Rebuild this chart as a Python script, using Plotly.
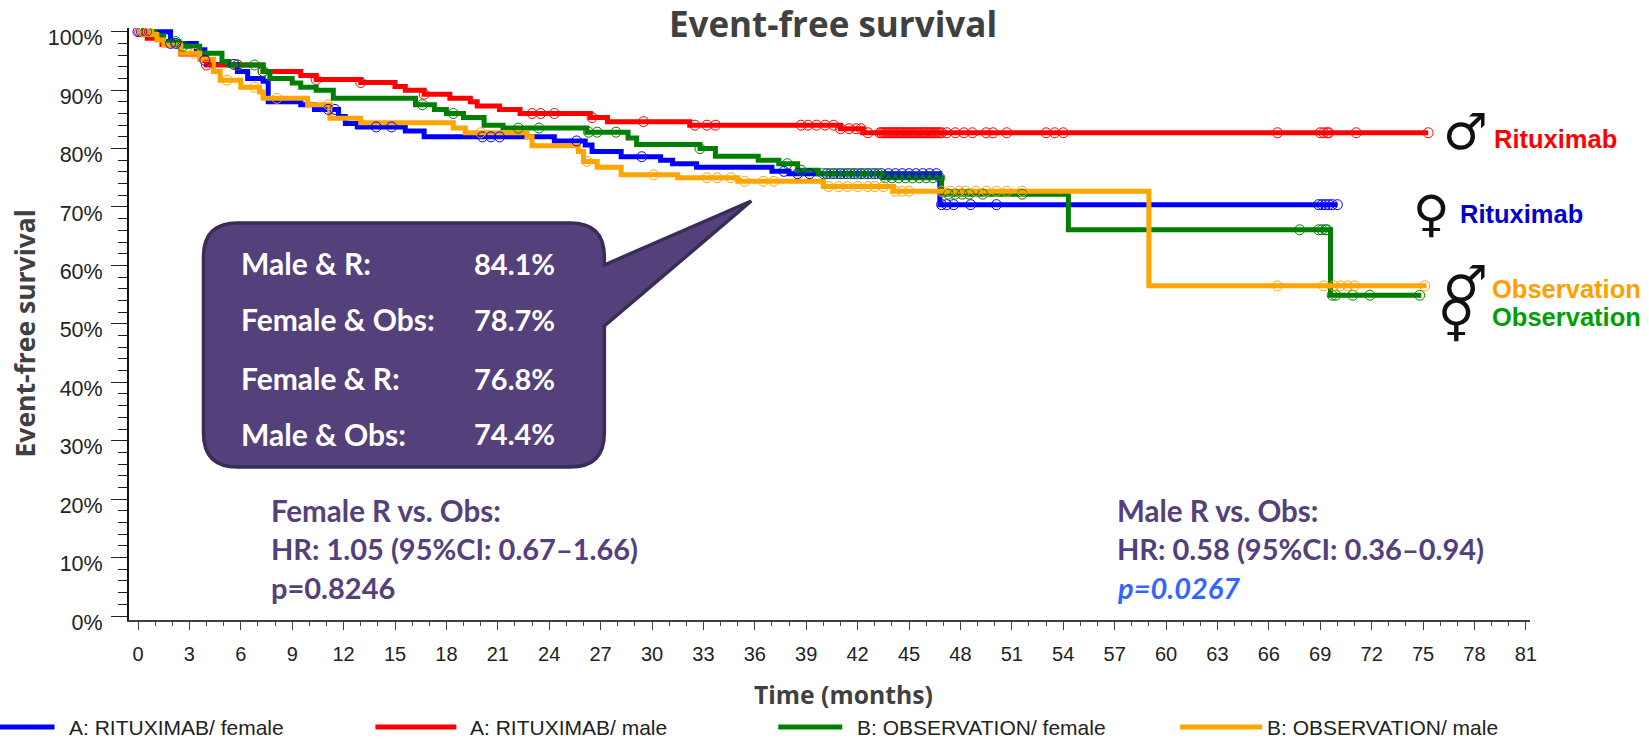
import numpy as np
import plotly.graph_objects as go

W, H = 1649, 741
L, R, T, B = 128.5, 1530, 28, 620
X0, XS = 137.5, 17.14
Y0, YS = 616, 5.843

blue_t = [0,1.9,3.4,3.9,4.0,5.8,6.4,7.3,7.6,9.5,10.3,11.7,12.1,12.8,15.6,16.7,24.3,26.1,26.5,28.2,30.5,31.2,32.6,37.0,38.0,46.8,70.0]
blue_s = [100,98,96.9,95.1,94.4,93.2,92,91.5,88,87.5,86.7,85.5,84.3,83.7,83,82,81.3,80.6,79.5,78.6,78,77.4,76.8,76.1,75.7,70.4,70.4]
red_t = [0,0.54,1.4,2.5,4.0,7.3,9.5,10.4,13.0,15.0,15.6,16.7,18.2,19.4,19.8,21.1,22.3,26.4,27.4,32.2,41.0,42.3,75.3]
red_s = [100,98.9,97.8,96.2,94.3,93.2,92.5,91.8,91.3,90.6,90,89.3,88.6,88,87.3,86.7,86,85.3,84.6,84,83.4,82.7,82.7]
green_t = [0,1.0,1.5,2.4,3.6,4.9,5.3,7.3,7.7,9.0,9.5,10.4,11.4,16.2,17.3,18.0,19.0,20.2,21.3,26.2,28.6,29.1,32.8,33.7,36.2,37.4,38.5,39.7,43.5,46.9,54.3,69.6,74.9]
green_s = [100,99.3,98.3,97.5,96.3,94.9,94.3,93.2,92,91.2,90.5,90,88.6,87.5,86.7,86,85.3,84,83.5,82.8,81.8,80.7,80,78.7,78,77.4,76.3,75.7,75,72.2,66.1,54.9,54.9]
orange_t = [0,0.8,1.1,1.5,2.5,3.6,4.4,4.8,6.0,7.1,7.3,9.9,11.2,13.0,18.4,19.1,22.7,23.0,25.7,26.0,26.8,28.2,31.5,35.0,40.0,44.1,59.0,75.2]
orange_s = [100,99.5,98.6,97.7,96.3,95.3,93.2,91.7,90.5,89.7,88.6,87.5,85.2,84.4,83.5,82.7,82,80.5,79.5,77.8,76.8,75.5,75,74.4,73.5,72.7,56.5,56.5]

blue_cens = [0,0.2,1.9,2.2,3.9,5.6,11.1,11.5,13.9,14.8,20.1,20.6,21.1,25.6,29.4,37.7,38.5,39.2,40.2,40.6,41,41.4,41.8,42.2,42.6,43,43.4,43.8,44.2,44.6,45,45.4,45.8,46.2,46.6,46.9,47.2,47.6,48.6,50.1,68.9,69.1,69.3,69.5,69.7,70.0]
red_cens = [0.1,0.3,4.0,5.8,7.3,10.4,13,16.7,23,23.5,24.3,26.5,29.5,32.5,33.2,33.7,38.7,39.1,39.6,40.1,40.6,41,41.5,41.9,42.2,42.6,43.3,43.4,43.5,43.6,43.7,43.8,43.9,44.0,44.1,44.2,44.3,44.4,44.5,44.6,44.7,44.8,44.9,45.0,45.1,45.2,45.3,45.4,45.5,45.6,45.7,45.8,45.9,46.0,46.1,46.2,46.3,46.4,46.5,46.6,46.7,46.8,46.9,47.2,47.7,48.2,48.7,49.5,49.9,50.7,53,53.5,54,66.5,69,69.2,69.4,69.5,71.1,75.3]
green_cens = [0.5,2.2,2.6,5.8,6.8,7.3,16.6,18.4,22.2,23.4,26.3,26.8,27.9,32.8,37.9,38.7,40,40.4,40.8,41.2,41.6,42,42.4,42.8,43.2,43.6,44,44.4,44.8,45.2,45.6,46,46.4,46.8,47.3,47.7,48.1,48.5,49.3,51.6,67.8,68.9,69.1,69.3,69.4,69.7,69.9,70.9,71.9,74.8]
orange_cens = [0.3,0.6,3.3,5.2,6.8,8.1,11.1,20,26.2,30.1,33.2,33.8,34.6,35.4,36.5,37.1,40.3,40.9,41.4,42,42.6,43,43.5,44.2,44.6,45,46.9,47.4,47.9,48.3,48.9,49.5,50.1,50.7,51.6,66.5,69.2,69.8,70.2,70.6,71,75.1]

series_names = ["A: RITUXIMAB/ female", "A: RITUXIMAB/ male", "B: OBSERVATION/ female", "B: OBSERVATION/ male"]
series_colors = ["#0000ff", "#ff0000", "#008000", "#ffa500"]
x_ticks = list(range(0, 82, 3))
y_ticks = list(range(0, 101, 10))
callout_labels = ["Male & R:", "Female & Obs:", "Female & R:", "Male & Obs:"]
callout_values = ["84.1%", "78.7%", "76.8%", "74.4%"]
PURPLE = "#54407a"
GREY = "#404040"

def px(x): return (x - L) / (R - L)
def py(y): return (B - y) / (B - T)
def step_at(ts, ss, c):
    i = np.searchsorted(ts, c, side="right") - 1
    return [ss[k] for k in i]

fig = go.Figure()
allser = [(blue_t, blue_s, blue_cens), (red_t, red_s, red_cens), (green_t, green_s, green_cens), (orange_t, orange_s, orange_cens)]
for (t, s, c), nm, col in zip(allser, series_names, series_colors):
    fig.add_trace(go.Scatter(x=t, y=s, mode="lines", name=nm, showlegend=False,
                             line=dict(color=col, width=5, shape="hv")))
for (t, s, c), nm, col in zip(allser, series_names, series_colors):
    fig.add_trace(go.Scatter(x=c, y=step_at(t, s, c), mode="markers", name=nm + " censored", showlegend=False,
                             marker=dict(symbol="circle-open", size=10, color=col, line=dict(width=1, color=col))))

shapes = []
xl, xr, yt, yb, r = 203, 604, 223, 467, 34
pts = [("M", xl + r, yt), ("L", xr - r, yt), ("Q", xr, yt, xr, yt + r), ("L", xr, 265), ("L", 751, 201),
       ("L", xr, 326), ("L", xr, yb - r), ("Q", xr, yb, xr - r, yb), ("L", xl + r, yb),
       ("Q", xl, yb, xl, yb - r), ("L", xl, yt + r), ("Q", xl, yt, xl + r, yt)]
path = ""
for p in pts:
    c = p[1:]
    path += p[0] + " " + " ".join(f"{(px(c[i]) if i % 2 == 0 else py(c[i])):.5f}" for i in range(len(c))) + " "
shapes.append(dict(type="path", xref="paper", yref="paper", path=path + "Z", fillcolor=PURPLE,
                   line=dict(color="#3a2c58", width=3.5), layer="above"))
leg_lines = [(-27, 54), (375, 456), (778, 842), (1180, 1262)]
for (a, b), col in zip(leg_lines, series_colors):
    shapes.append(dict(type="line", xref="paper", yref="paper", x0=px(a), x1=px(b), y0=py(727), y1=py(727),
                       line=dict(color=col, width=5)))

ann = []
def text(s, x, y, size, color, family="Lato", bold=True, anchor="left", italic=False, angle=0):
    if bold: s = f"<b>{s}</b>"
    if italic: s = f"<i>{s}</i>"
    ann.append(dict(text=s, x=px(x), y=py(y), xref="paper", yref="paper", xanchor=anchor, yanchor="middle",
                    showarrow=False, textangle=angle, font=dict(size=size, color=color, family=family)))

rows_y = [263, 319, 378, 434]
for lab, val, y in zip(callout_labels, callout_values, rows_y):
    text(lab, 239, y, 30, "white")
    text(val, 557, y, 29, "white", anchor="right")
for x, lines, sizes in [(269, ["Female R vs. Obs:", "HR: 1.05 (95%CI: 0.67–1.66)", "p=0.8246"], [29.5, 29, 29]),
                        (1115, ["Male R vs. Obs:", "HR: 0.58 (95%CI: 0.36–0.94)"], [29.5, 29])]:
    for s, y, sz in zip(lines, [510, 548, 587], sizes):
        text(s, x, y, sz, PURPLE)
text("p=0.0267", 1115, 587, 29, "#3366ff", italic=True)

for (s, x, col, y) in [("Rituximab", 1492, "#ff0000", 139), ("Rituximab", 1458, "#0000cc", 214),
                       ("Observation", 1490, "#ffa000", 289), ("Observation", 1490, "#00a000", 317)]:
    text(s, x, y, 25.5, col, family="Liberation Sans")
for (s, x, y) in [("♂", 1465, 132), ("♀", 1431, 214), ("♂", 1465, 284), ("♀", 1456, 318)]:
    text(s, x, y, 50, "#111111", family="DejaVu Sans", bold=False, anchor="center")

text("Time (months)", 843, 694, 24.7, GREY, family="Open Sans", anchor="center")
text("Event-free survival", 24, 334, 26.5, GREY, family="Open Sans", anchor="center", angle=-90)

for nm, x in zip(series_names, [66, 468, 855, 1265]):
    text(nm, x, 727.5, 21, "#222222", family="Liberation Sans", bold=False)

fig.update_layout(
    width=W, height=H, autosize=False, margin=dict(l=L, r=W - R, t=T, b=H - B, pad=0),
    paper_bgcolor="white", plot_bgcolor="white", showlegend=False,
    title=dict(text="<b>Event-free survival</b>", x=833 / W, xanchor="center",
               y=1 - 25 / H, yanchor="middle", font=dict(size=35, color=GREY, family="Open Sans")),
    shapes=shapes, annotations=ann,
    xaxis=dict(range=[(L - X0) / XS, (R - X0) / XS], tickvals=x_ticks, ticks="outside", ticklen=8, tickwidth=1,
               tickcolor=GREY, linecolor=GREY, linewidth=2, showline=True, showgrid=False, zeroline=False,
               tickfont=dict(size=20, color="#222222", family="Liberation Sans"), ticklabelstandoff=7,
               minor=dict(dtick=1, tick0=0, ticks="outside", ticklen=4, tickcolor=GREY, showgrid=False)),
    yaxis=dict(range=[(Y0 - B) / YS, (Y0 - T) / YS], tickvals=y_ticks, ticktext=[f"{v}%" for v in y_ticks],
               ticks="outside", ticklen=16, tickwidth=1, tickcolor="#222222", linecolor="#111111", linewidth=2,
               showline=True, showgrid=False, zeroline=False,
               tickfont=dict(size=21.5, color="#222222", family="Liberation Sans"), ticklabelstandoff=4, ticklabelshift=6,
               minor=dict(dtick=2, tick0=0, ticks="outside", ticklen=9, tickcolor="#222222", showgrid=False)),
)
fig.write_html("out.html", config=dict(displayModeBar=False),
               post_script="document.body.style.margin='0';document.documentElement.style.overflow='hidden';")
